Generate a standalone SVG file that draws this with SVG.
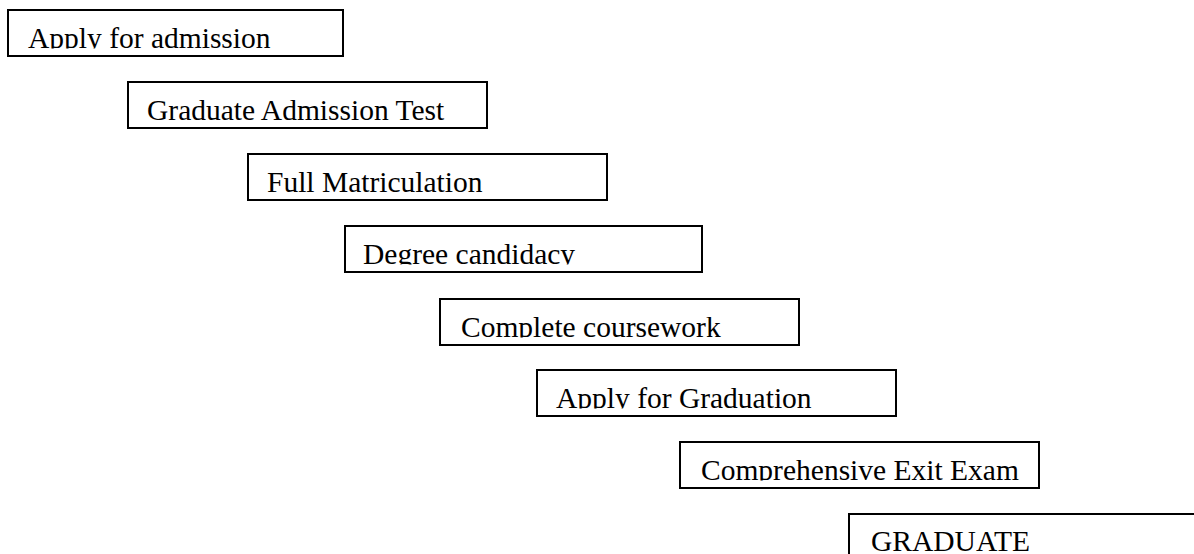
<svg xmlns="http://www.w3.org/2000/svg" width="1194" height="554" viewBox="0 0 1194 554">
<style>
.box{fill:none;stroke:#000;stroke-width:2}
.lbl{font-family:"Liberation Serif","Times New Roman",serif;font-size:29.5px;fill:#000}
</style>
<defs>
<clipPath id="c1"><rect x="9" y="11" width="333" height="37.5"/></clipPath>
<clipPath id="c2"><rect x="129" y="83" width="357" height="37.5"/></clipPath>
<clipPath id="c3"><rect x="249" y="155" width="357" height="37.5"/></clipPath>
<clipPath id="c4"><rect x="346" y="227" width="356" height="37.5"/></clipPath>
<clipPath id="c5"><rect x="441" y="300" width="357" height="37.5"/></clipPath>
<clipPath id="c6"><rect x="538" y="371" width="357" height="37.5"/></clipPath>
<clipPath id="c7"><rect x="681" y="443" width="357" height="37.5"/></clipPath>
<clipPath id="c8"><rect x="850" y="515" width="400" height="100"/></clipPath>
</defs>
<rect width="1194" height="554" fill="#fff"/>
<g id="connectors"></g>
<g id="n1"><text class="lbl" x="28" y="47.8" clip-path="url(#c1)">Apply for admission</text><rect class="box" x="8" y="10" width="335" height="46"/></g>
<g id="n2"><text class="lbl" x="147" y="119.8" clip-path="url(#c2)">Graduate Admission Test</text><rect class="box" x="128" y="82" width="359" height="46"/></g>
<g id="n3"><text class="lbl" x="267" y="191.8" clip-path="url(#c3)">Full Matriculation</text><rect class="box" x="248" y="154" width="359" height="46"/></g>
<g id="n4"><text class="lbl" x="363" y="263.8" clip-path="url(#c4)">Degree candidacy</text><rect class="box" x="345" y="226" width="357" height="46"/></g>
<g id="n5"><text class="lbl" x="461" y="336.8" clip-path="url(#c5)">Complete coursework</text><rect class="box" x="440" y="299" width="359" height="46"/></g>
<g id="n6"><text class="lbl" x="556" y="407.8" clip-path="url(#c6)">Apply for Graduation</text><rect class="box" x="537" y="370" width="359" height="46"/></g>
<g id="n7"><text class="lbl" x="701" y="479.8" clip-path="url(#c7)">Comprehensive Exit Exam</text><rect class="box" x="680" y="442" width="359" height="46"/></g>
<g id="n8"><text class="lbl" x="871" y="550.5" clip-path="url(#c8)">GRADUATE</text><rect class="box" x="849" y="514" width="400" height="100"/></g>
</svg>
